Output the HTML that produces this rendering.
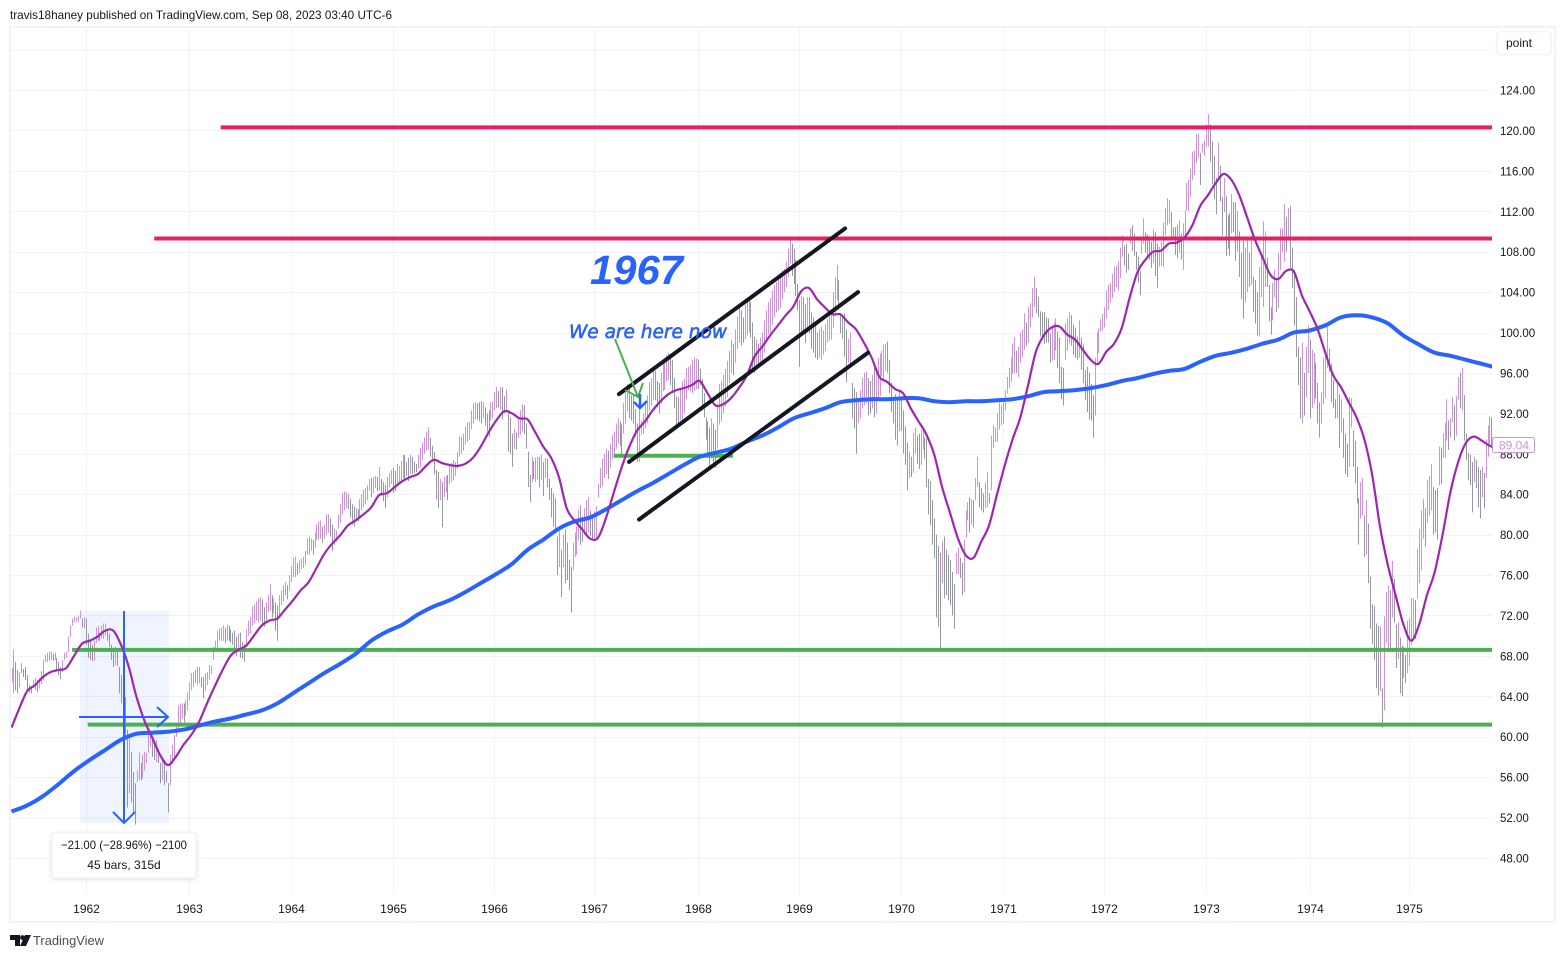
<!DOCTYPE html>
<html lang="en">
<head>
<meta charset="utf-8">
<title>TradingView weekly chart 1962-1975</title>
<style>
html,body{margin:0;padding:0;background:#fff;width:1566px;height:958px;overflow:hidden}
svg{display:block;font-family:"Liberation Sans",sans-serif}
</style>
</head>
<body>
<svg id="chart" xmlns="http://www.w3.org/2000/svg" width="1566" height="958" viewBox="0 0 1566 958">
<text x="10" y="19" font-size="12" fill="#131722" textLength="382" lengthAdjust="spacingAndGlyphs">travis18haney published on TradingView.com, Sep 08, 2023 03:40 UTC-6</text>
<rect x="10" y="27" width="1545" height="895" fill="#fff" stroke="#f0f3fa" stroke-width="2"/>
<defs><clipPath id="plot-clip"><rect x="11" y="28" width="1481" height="867"/></clipPath></defs>
<g id="grid"></g>
<g id="plot" clip-path="url(#plot-clip)"></g>
<g id="yaxis"></g>
<g id="xaxis"></g>
<g>
<rect x="1496.5" y="31.5" width="55" height="23" rx="5" fill="#fff" stroke="#f0f3fa" stroke-width="1.5"/>
<text x="1519" y="47" font-size="12" fill="#131722" text-anchor="middle">point</text>
</g>
<g>
<rect x="52" y="833" width="144" height="45" rx="3" fill="#fff" stroke="#eef0f5" stroke-width="1" style="filter:drop-shadow(0 1px 2px rgba(0,0,0,.12))"/>
<text x="61" y="849" font-size="12" fill="#131722" textLength="126" lengthAdjust="spacingAndGlyphs">−21.00 (−28.96%) −2100</text>
<text x="124" y="869" font-size="12" fill="#131722" text-anchor="middle">45 bars, 315d</text>
</g>
<g>
<rect x="1492.5" y="437.5" width="42" height="15" rx="2" fill="#fff" stroke="#ce93d8" stroke-width="1"/>
<text x="1514" y="449.5" font-size="12" fill="#ce93d8" text-anchor="middle">89.04</text>
</g>
<g>
<path d="M10 935H20V946H15V940H10ZM25 935H31L26 946H20Z" fill="#131722"/>
<circle cx="22.5" cy="937.6" r="2.4" fill="#131722"/>
<text x="33" y="945" font-size="12.5" fill="#4a4e59" textLength="71" lengthAdjust="spacingAndGlyphs">TradingView</text>
</g>
</svg>
<script>
// ---------- data ----------
const priceTicks=[124,120,116,112,108,104,100,96,92,88,84,80,76,72,68,64,60,56,52,48];
const yearLabels=[1962,1963,1964,1965,1966,1967,1968,1969,1970,1971,1972,1973,1974,1975];
const yearStartBars=[38,91,143,195,247,298,351,403,455,507,559,611,664,715];
const smaStepBars=8;
const emaStepBars=4;
// weekly bars: high,low,high,low,...
const highLowPairs=[
// 1961
66.8,65.4,68.6,64.3,67.4,64.6,66.6,64.3,66.4,64.9,67.3,66.3,66.7,65.9,66.9,65.6,66.1,64.6,65.1,64.4,64.9,64.3,65.6,64.8,65.8,64.6,65.6,64.4,65.8,64.8,66.5,65.2,67.6,65.6,68.1,67.4,68.3,67.4,68.4,67.5,68.4,67.6,68.2,67.5,68.3,67.6,67.8,66.6,67.4,66.1,66.9,65.7,67.6,66.4,68.3,67.6,68.4,67.8,69.9,68.4,71,69.9,71.7,71,71.9,71.3,71.8,71.4,72,71.3,72.5,71.7,71.7,70.8,71.8,70.7,
// 1962
71.7,69.1,70.2,67.8,69.5,67.6,69.1,67.5,69.5,67.5,70.8,69.3,71,69.5,70.3,69.5,71,69.7,71.2,69.7,71.2,70,70.5,69.5,70.2,68.9,69.1,67.6,68.8,66.9,68.9,67.1,68.5,67,66.9,64.3,66.1,63.3,64.8,61.4,63.9,59.9,60.7,53,60.1,54.4,58.5,53.5,56.5,52.4,55.4,51.3,56.7,55.5,58.5,55.7,57.4,55.7,58.2,55.9,58.5,56.7,58.4,57.4,60.3,58.4,60.2,59,59.7,58,59.5,57.7,59.7,57.5,58.4,57.4,57.4,55.4,57.9,55.7,57.7,55.2,56.6,55.5,55.4,52.5,58.2,55.2,59.2,57.5,60.2,57.9,61.3,60,63.1,60.7,63.3,61.3,63.3,61.8,63.3,61.4,63.6,62.1,64.4,62.6,
// 1963
65.4,63.6,66.3,64.6,66.4,64.9,66.6,65.3,66.9,65.1,66.9,65.3,65.9,64.9,65.9,63.8,66.3,64.6,66.4,65.1,67.1,65.6,67,66.2,68.9,67.6,69.5,68.4,70.5,68.8,70.7,69.5,70.8,69.5,71,69.5,70.8,69.3,71.1,69.5,71,69.5,70.6,69.3,70.3,69.1,70.5,68.3,69.9,68,70.2,68.5,70.3,67.8,69.4,67.7,69.2,67.4,70.6,69.2,71.5,70,71.9,70.2,72.9,71,73.1,71.2,73.4,71.5,73.7,71.3,73.8,71.5,73.6,71.2,72.8,70.9,73.3,71.5,74,72.3,75.1,72.5,74,71.8,73.7,72.2,73.3,70.5,73,69.5,74,72,74.5,73,75,73.4,75.3,74,75,73.6,76,74.5,
// 1964
76.9,75.3,77.7,75.8,77.8,75.8,77.2,76,77.5,76.2,77.6,76.6,77.8,76.7,78.4,77,79.6,78,79.8,78,79.6,78.4,79.5,78,80.2,78.7,81,79.5,81.3,79.5,81.4,79.6,80.8,79.2,81,79.6,82,80,82,80.2,81.6,79.8,81,78.4,80.6,79,80.4,79.3,82,80.6,83,81.2,84.1,82,84.3,82.4,84.2,82.6,84,82.5,83.6,81.7,83,81,82.8,80.8,82.6,81.3,82.5,81.3,83.5,81.8,84,82.4,84.5,82.7,84.6,83,84.9,83.4,85.5,84.4,85.6,83.7,85.7,84.1,85.8,84.6,85.7,84.3,86.7,84.4,85.5,83.8,85.2,83.3,84.9,82.6,85.7,83.7,86.1,84.7,86.4,85,
// 1965
86.6,84.1,86.3,84.3,87,85,86.8,85.2,87.3,85.4,87.9,85.6,87.9,85.5,87.2,85.8,87.6,85.3,87.9,86,87.7,86,87.2,86.1,87,86.2,87.9,86.5,88.6,86.7,89.1,87.4,89.6,88,90.2,88.3,90.6,88.4,89.6,87.7,88.8,87.2,88.2,86,86.4,83.5,86.2,82.6,85.5,83.4,85.2,80.7,85.7,83.7,85.8,84.2,85.9,83.4,86.8,85,87.1,85.2,87.4,85.4,87.2,85.8,88.2,86.5,89.7,87.7,89.7,88,90,88.3,90.7,88.9,91.1,89.2,91.2,89.4,92.3,90.4,93,91,93.1,91.4,93,91.4,93.1,91.2,93.2,91,93.1,91.5,92.6,90.8,92,90.2,92.3,89.7,93.1,91.3,93.2,91.5,
// 1966
94.1,92.3,94.6,92.5,94.2,92.6,94.6,92.4,94.6,91.4,93.7,92,94.4,92.1,92,88.2,91.6,88,90,86.7,90.5,88.5,90.1,88.4,91.5,89.6,92.3,89.9,92.9,90.2,92.8,90,91,88.5,88.2,84.7,85.9,83.2,87.7,85.2,87.3,85.5,87.6,85.2,87.7,85.5,87.7,84.7,87.9,85.4,87.2,83.8,87.6,85.6,87.5,84.7,85.5,83.4,84.6,81.7,84.1,80.8,83.6,80.2,79.8,76,80.4,76.8,78.5,73.8,80,76.8,80.5,75.2,79.2,75.5,77.5,74.5,76.8,72.3,79.2,76.5,80.2,77.8,80.8,78,82.5,79.5,82.9,79,81.8,79.3,82.6,80,83.4,79.8,83.7,80.2,82.4,79.9,82,79.5,82.3,79.6,
// 1967
82.8,79.7,85,83.7,86.6,84.6,87.5,84.8,88,85.6,88.5,86,88.3,85.5,89,86.6,89.9,87.5,90.2,87.9,91,88.5,91.5,89,91.2,88.8,90.9,87.9,93,90,94.3,91,94.9,92.2,94.6,91.5,93.8,91.3,93.9,91,92.4,89.7,91,87.2,92.5,87.2,91.3,89.9,92,90,93,90.5,93.8,91,95.1,92.2,95.5,92.8,96.6,93.3,96.2,93.3,95.2,92.6,95,92,96,93,97,94.2,97.3,94.3,97.8,95.2,98,95.3,97.6,94.8,97.3,94,95.5,92.5,93.7,90.9,93.6,90.6,94.5,91.3,95.2,91.3,95.4,92,96.5,93.5,96.6,94.3,96.8,94.2,97.3,94,97.5,94.2,97.4,94.4,
// 1968
97.3,94.4,96.4,94.8,95.4,92.5,94,91.6,91.6,89.4,91.2,87.6,90.6,86.7,91.5,87.5,91,87.1,90.4,86.6,93,88.5,94.9,90.9,95.2,91.2,95.8,92,96.4,92.7,97.2,93.6,98.2,95,99.3,96,98.9,95.8,100.3,97,101.6,98.4,102.5,99,102.2,98.7,101.5,99,102.7,99.3,103.2,99.7,103.5,100,103,99.5,101,96.5,99.6,96,99.3,96.3,98.9,96.5,99.5,96.8,100,97,101.2,98,102.2,99,103,99.8,103.4,100,104.2,100.8,104.7,101.5,105,102,105.4,102.2,105.9,102.4,106.2,103.3,106.3,104,107,104.5,108.3,105.5,109.2,106.8,108.8,105.6,108.3,104.8,107.2,103.6,104.8,102.2,
// 1969
103.2,96.6,103.6,100,103.5,99.9,102.8,99,103.5,100,103.5,99.9,102,98.4,101.5,98,101,97.5,100,97.3,100.3,97.5,100.6,97.3,100.2,97.8,100.8,98.2,101.3,99,101.8,99.2,102.2,99.3,104,100.5,105.5,101.7,106.7,103.2,105.2,102.2,101.9,99.9,101.7,99.4,101.9,97.6,100.3,95.1,99.4,97,100,96.6,95,91.5,94.5,90.5,94.1,88,93.5,91,94.3,91.5,95.5,92.5,96,92.8,96.1,93,95.5,91.8,95.2,92,95.8,92.5,96.5,91.6,96.5,92,97.5,93.4,97.9,93.7,98.2,95.7,98.8,95.2,98.9,96.2,99.1,96,97.3,94,95,92.1,93.5,91,93.9,89.4,93.5,88.8,94.2,90.2,
// 1970
93.5,90.3,92.3,88,90.7,86.9,89.1,84.4,88.2,85.6,87.7,85.7,90.1,86.1,90.6,88,89.8,87,90,86.5,90.4,86.9,90.6,88.4,89.6,87.5,89.5,84.7,85.5,82,85.3,80.9,83.4,79,81.6,77.7,80,71.8,78.9,70.9,78.2,68.7,79.3,75.2,79.8,73.7,78.5,74,78,73.5,77.5,73,76.3,72,75.1,70.7,78.2,76.1,78.7,76.1,77.7,75.7,77.2,74,79.5,74.3,82.4,79.7,83.2,81.4,83.7,80.2,83.5,81,83.4,80.7,85.6,83.4,87.7,84.7,85.2,82.7,84.6,82.4,84.1,82.2,85.2,82.6,86.2,82.7,84.1,83.1,89.8,84.4,90.8,88.6,90.6,89.2,92,89.2,93.1,90.4,92.8,90.8,
// 1971
93.1,91,94.3,92.3,95.6,94,96.5,94.5,97.5,95.1,98.9,95.9,99.5,96,98.2,96,98.6,95.6,100,97,100.3,97.6,101.9,98.3,101,98.7,102.5,99,102.9,100.5,104.4,101.5,105.5,102.5,104.4,101.9,103.5,101.5,102.1,99.6,102,99.3,102,98.9,101.5,99,101.4,99,99.9,97,100.5,97.2,101,97.3,101.4,98.2,100.1,96.5,99.5,95,96.6,93.4,96.5,92.8,100.9,97.3,101.4,98.2,102,98.9,101.7,98.7,100.8,97.8,100.5,97.5,99.6,97.3,101.2,97.5,99.5,96.3,98.8,95,96.3,93.3,96.6,92.1,96,91.4,94.9,91.3,93.8,89.6,97.5,91.8,100,96.8,100.4,98,101.3,100.1,101.8,100.2,
// 1972
102.5,100.5,104.2,101.4,104.7,102.2,104.9,103,105.8,103.4,106.5,104,106.6,104.5,107,104.2,108.4,105.4,109.6,107.5,108.6,106.6,108.8,105.9,107.8,106.2,110.3,108.8,110.6,108.1,109.8,107.6,108,106.2,107.5,105,106.1,103.7,109.5,107.8,111.3,108.8,109.9,107.9,109.7,107.5,109.5,107.2,109,106.4,110.2,106.9,109.9,105.6,108.8,104.4,108.5,106.5,109,106.6,110.9,106.5,112.3,109.6,113.3,110.6,113.1,110.8,111.9,109.1,110.4,109.5,110.4,107.7,110.6,107.4,111.1,107.9,109.8,107.2,110.8,106.2,112.1,109.1,114.8,112.1,115.1,112,116.2,113.4,117.9,115.1,118,115.6,119.6,116.8,119.7,117.3,117.8,114.6,118.7,117.8,119,117.5,
// 1973
120.6,118.4,121.6,118.4,120.6,116.9,118.9,114.7,117.5,113.2,115.3,111.7,118.8,115.1,116.5,113,113.4,109.6,115.3,111.9,113.5,107.6,111.6,108.3,111.8,107.6,113.7,109.8,112.9,109.9,112.9,107.1,112,108,110,105.5,107.9,103.3,109.1,101.4,108.4,103,109.5,104,107.9,104.5,109.6,104.7,105.5,102,105.2,100.9,104,99.7,106.5,99.6,107.6,103.5,111,102.5,110,104.5,107.4,104.5,104.7,101.1,102.5,99.8,104.9,101.2,106.2,103.5,105.2,102,107.9,102.4,110.3,106.2,110.3,108,112.7,107,111.4,108,112.3,109.1,112.5,106.4,108.4,104.4,106.2,100.7,103.5,97.6,98.6,94.8,97.5,91.5,99,91,96,91.8,98.6,93.6,100.7,96,
// 1974
99.3,91.5,98.3,92.5,98,93,97,93.5,95,91,93.1,89.6,94.1,91,97.5,92.9,98.2,93.5,100.9,96.5,98.4,96.1,96.9,93.1,95.3,92.5,93.4,91.5,94.9,91.5,93.9,88.6,93.4,90.1,91.5,87.6,90,86,89,85.7,93.6,86.7,93.5,90.6,90.3,86.7,89.3,85.1,86.7,83.1,83.6,79,85.2,81.6,85.6,81.9,81.9,77.8,83.4,78,81.1,75.2,75.9,70.7,73.1,69.2,72.9,67.6,71.2,64.8,71,64.1,70.9,64.5,64.8,60.9,71.9,62.6,74.3,69.3,75,68.7,74.5,68.8,77.4,71.8,75.6,71.3,71.1,66.8,71.3,67.7,69.8,64.3,69,64,68.9,65.8,68.1,65.3,71.5,66.3,
// 1975
71.7,67,73.7,69.1,73.7,69.9,73.5,69.7,78.6,73.7,80.6,75.2,82.4,76.5,83.5,79.6,82.6,78.8,85.4,81.2,85.8,81.9,87,82.4,84.7,80,84.4,80.2,84.6,79.5,88.7,84.9,88.6,85,90,87.6,91.1,87.6,93.4,89.3,91.3,88.4,91.5,89.6,93.6,91.1,92.8,89.3,93.7,89.8,95.6,93.3,96,92.5,96.5,92.3,93.8,89.3,90,87.4,88.1,85.4,87.9,84.9,87.2,82.2,87.7,85.2,87.4,84.6,86.7,82.7,86.4,81.6,86.7,83.7,86.1,82.6,89.4,85.6,90.8,87.7,91.7,88.8,91.6,88.7
];
// blue long moving average, one value every smaStepBars
const smaValues=[52.6,53.2,54.1,55.3,56.6,57.7,58.7,59.7,60.3,60.4,60.5,60.7,61.1,61.5,61.8,62.2,62.6,63.3,64.3,65.3,66.3,67.2,68.2,69.5,70.4,71.1,72.1,72.9,73.5,74.3,75.2,76.1,77.1,78.5,79.5,80.6,81.3,81.7,82.5,83.4,84.3,85.1,86,86.9,87.7,88.1,88.5,89.2,89.8,90.6,91.5,92,92.5,93.1,93.3,93.4,93.4,93.5,93.5,93.2,93.1,93.2,93.2,93.3,93.4,93.7,94.1,94.2,94.3,94.5,94.8,95.2,95.5,95.9,96.2,96.4,97.1,97.7,98,98.4,98.9,99.3,100,100.2,100.7,101.5,101.7,101.5,100.9,99.7,98.8,98,97.7,97.3,96.9,96.5];
// purple moving average, one value every emaStepBars
const emaValues=[60.9,62.8,64.5,65.1,65.9,66.4,66.6,66.8,68,69.2,69.5,69.9,70.5,70.5,69.1,66.9,63.9,61.6,59.9,58.2,57.2,58,59.2,60.2,61.5,63.3,65,66.6,68,68.6,69,70,71,71.5,71.7,72.6,73.5,74.5,75.3,76.7,78.1,79.1,79.9,80.9,81.4,82,82.7,83.9,84.1,84.7,85.3,85.7,86,86.8,87.4,87.1,86.9,86.8,87,87.6,88.7,90.1,91.3,92.2,92,91.5,91.4,90.1,88.7,87.6,85.7,82.6,81.4,80.5,79.6,79.7,81.6,84.1,86.6,88.7,90.3,91.2,92.3,93.2,93.9,94.3,94.5,94.8,95.2,94,92.8,92.9,93.5,94.5,95.7,97.6,98.6,99.7,100.7,101.7,102.6,104.1,104.4,103.3,102.5,101.8,101.8,101,100.3,99,97.5,95.6,95.1,94.4,94,92.5,91.2,89.9,87.9,84.7,82.2,79.7,78,77.7,79.3,80.9,83.9,86.8,89.4,91.6,94.8,98.1,99.7,100.5,100.6,99.8,99.3,98.3,97.3,96.9,98.1,98.9,100.5,103.5,106,107.2,108,108.1,108.8,108.9,109.4,110.6,112.5,113.6,114.8,115.7,115.1,113.6,111.4,109.2,107.4,105.7,105.3,106.1,106,103.7,102.1,100.4,98,95.8,94.6,93.1,91.6,89.4,85.9,80.8,77,74,71.1,69.5,71.1,74,76.3,80,84.2,87.2,89.1,89.7,89.3,88.8,88.5];
// horizontal levels: start bar and price
const redLevelBars=[107,73];
const redLevelPrices=[120.3,109.3];
const greenLevelBars=[31,39,308];
const greenLevelPrices=[68.6,61.2,87.8];
const greenLevelEndBars=[780,780,369];
// channel trend lines: start/end bar and price
const channelStartBars=[310.7,315.9,321];
const channelStartPrices=[93.9,87.2,81.5];
const channelEndBars=[426.4,433,438.1];
const channelEndPrices=[110.3,104,98];

// ---------- axes ----------
const xOfBar=i=>11.5+1.955*i;
const yOfPrice=p=>90+(124-p)*10.105;

const NS='http://www.w3.org/2000/svg';
const grid=document.getElementById('grid');
const plot=document.getElementById('plot');
const yaxis=document.getElementById('yaxis');
const xaxis=document.getElementById('xaxis');
function mk(tag,attrs,parent,txt){
  const el=document.createElementNS(NS,tag);
  for(const k in attrs)el.setAttribute(k,attrs[k]);
  if(txt!==undefined)el.textContent=txt;
  parent.appendChild(el);
  return el;
}
// smooth curve through the series points (Catmull-Rom to cubic Bezier)
function linePath(vals,step){
  const px=vals.map((v,i)=>[xOfBar(i*step),yOfPrice(v)]);
  let d='M'+px[0][0].toFixed(1)+' '+px[0][1].toFixed(1);
  for(let i=0;i<px.length-1;i++){
    const a=px[Math.max(i-1,0)],b=px[i],c=px[i+1],e=px[Math.min(i+2,px.length-1)];
    d+='C'+(b[0]+(c[0]-a[0])/6).toFixed(1)+' '+(b[1]+(c[1]-a[1])/6).toFixed(1)+' '+
       (c[0]-(e[0]-b[0])/6).toFixed(1)+' '+(c[1]-(e[1]-b[1])/6).toFixed(1)+' '+
       c[0].toFixed(1)+' '+c[1].toFixed(1);
  }
  return d;
}

// grid + tick labels
priceTicks.forEach(p=>{
  const y=Math.round(yOfPrice(p))+0.5;
  const gl=mk('line',{x1:11,x2:1492,y1:y,y2:y,stroke:'#f0f3fa','stroke-width':1},grid);
  
  
  const t=mk('text',{x:1500,y:yOfPrice(p)+4.5,'font-size':11.5,fill:'#131722'},yaxis,p.toFixed(2));
  
  
});
const gTop=mk('line',{x1:11,x2:1492,y1:50.5,y2:50.5,stroke:'#f0f3fa','stroke-width':1},grid);


yearLabels.forEach((yr,i)=>{
  const x=Math.round(xOfBar(yearStartBars[i]))+0.5;
  const gl=mk('line',{x1:x,x2:x,y1:28,y2:895,stroke:'#f0f3fa','stroke-width':1},grid);
  
  
  const t=mk('text',{x:x,y:913,'font-size':12,fill:'#131722','text-anchor':'middle'},xaxis,yr);
  
  
});

// measure tool background
const measureBox=mk('rect',{x:80,y:611,width:89,height:212,fill:'#2962ff','fill-opacity':0.07},plot);



// price bars
const barsGroup=mk('g',{},plot);


for(let k=0;k<highLowPairs.length;k+=2){
  const hi=highLowPairs[k],lo=highLowPairs[k+1],i=k/2;
  const up=k===0||hi+lo>=highLowPairs[k-2]+highLowPairs[k-1];
  const x=Math.round(xOfBar(i))+0.5;
  const bar=mk('line',{x1:x,x2:x,y1:yOfPrice(hi).toFixed(1),y2:yOfPrice(lo).toFixed(1),stroke:up?'#ce93d8':'#9598a1','stroke-width':1},barsGroup);
  
  
}

// horizontal levels
redLevelPrices.forEach((p,i)=>{
  const l=mk('line',{x1:xOfBar(redLevelBars[i]),x2:1492,y1:yOfPrice(p),y2:yOfPrice(p),stroke:'#e91e63','stroke-width':4},plot);
  
  
});
greenLevelPrices.forEach((p,i)=>{
  const l=mk('line',{x1:xOfBar(greenLevelBars[i]),x2:xOfBar(greenLevelEndBars[i]),y1:yOfPrice(p),y2:yOfPrice(p),stroke:'#4caf50','stroke-width':4},plot);
  
  
});

// moving averages
const smaLine=mk('path',{d:linePath(smaValues,smaStepBars),fill:'none',stroke:'#2962ff','stroke-width':4,'stroke-linejoin':'round'},plot);


const emaLine=mk('path',{d:linePath(emaValues,emaStepBars),fill:'none',stroke:'#9c27b0','stroke-width':2.2,'stroke-linejoin':'round'},plot);



// channel lines
channelStartBars.forEach((b,i)=>{
  const l=mk('line',{x1:xOfBar(b),y1:yOfPrice(channelStartPrices[i]),x2:xOfBar(channelEndBars[i]),y2:yOfPrice(channelEndPrices[i]),stroke:'#131722','stroke-width':4,'stroke-linecap':'round'},plot);
  
  
});

// annotations
const measureArrows=mk('path',{d:'M124 611V822M113 812L124 823L135 812M79 717H168M157 707L168 717L157 727',fill:'none',stroke:'#2962ff','stroke-width':2},plot);


const greenArrow=mk('path',{d:'M615 339L638 397M625 390L638 397L643 383',fill:'none',stroke:'#4caf50','stroke-width':2},plot);


const blueArrow=mk('path',{d:'M640 394V408M634 402L640 408L647 401',fill:'none',stroke:'#2962ff','stroke-width':2.5},plot);


const yearNote=mk('text',{x:590,y:284,'font-size':41,'font-weight':'bold','font-style':'italic',fill:'#2962ff',textLength:93,lengthAdjust:'spacingAndGlyphs'},plot,'1967');


const hereNote=mk('text',{x:569,y:338,'font-size':19,'font-style':'italic',fill:'#2962ff',stroke:'#2962ff','stroke-width':0.6,'font-family':'"DejaVu Sans",sans-serif',textLength:158,lengthAdjust:'spacingAndGlyphs'},plot,'We are here now');


</script>
</body>
</html>
